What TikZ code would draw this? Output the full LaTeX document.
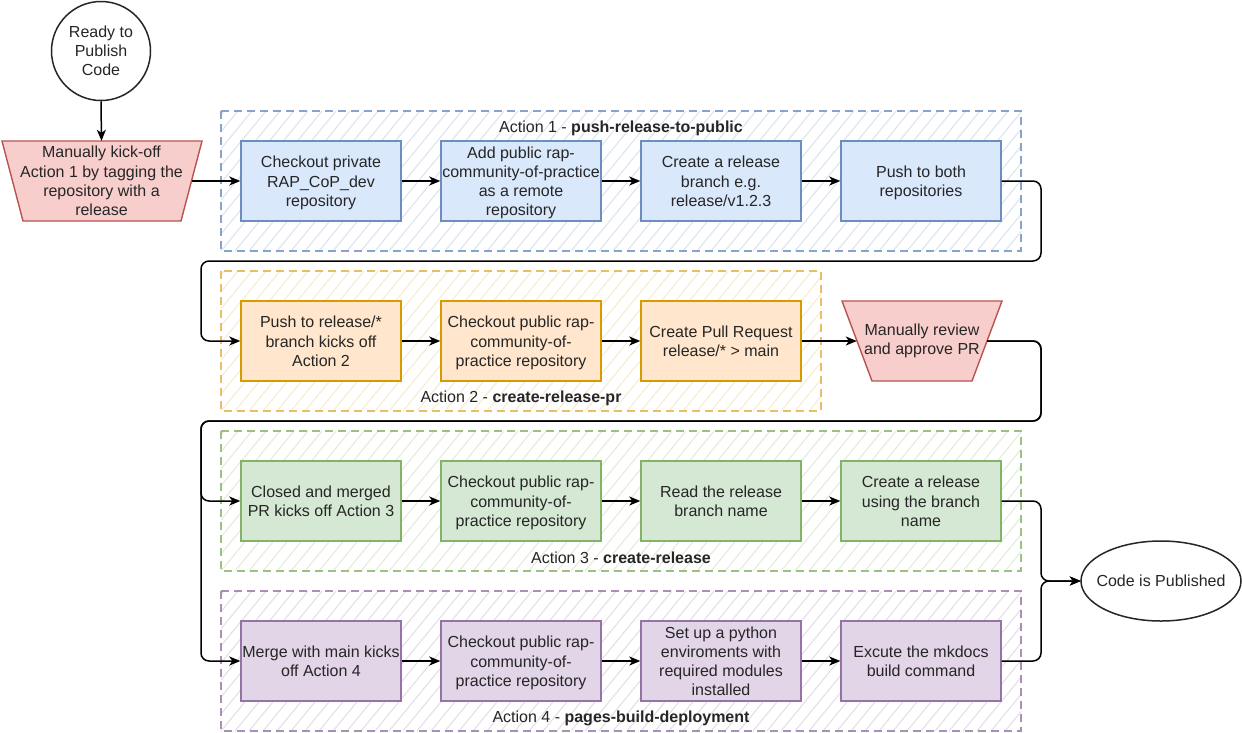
\documentclass[tikz,border=0pt]{standalone}
\usepackage{fontspec}
\setmainfont{Liberation Sans}
\usetikzlibrary{shapes.geometric,arrows.meta}
\newcommand\diagfont{\fontsize{16}{19.2}\selectfont}
\newcommand\tx[1]{\raisebox{-2.2pt}[\height][\depth]{\begin{tabular}{@{}c@{}}#1\end{tabular}}}
\definecolor{txt}{HTML}{262626}
\definecolor{bfill}{HTML}{DAE8FC}\definecolor{bstroke}{HTML}{6C8EBF}
\definecolor{ofill}{HTML}{FFE6CC}\definecolor{ostroke}{HTML}{D79B00}
\definecolor{gfill}{HTML}{D5E8D4}\definecolor{gstroke}{HTML}{82B366}
\definecolor{pfill}{HTML}{E1D5E7}\definecolor{pstroke}{HTML}{9673A6}
\definecolor{rfill}{HTML}{F8CECC}\definecolor{rstroke}{HTML}{B85450}
\definecolor{ycont}{HTML}{E0B040}
\tikzset{
  box/.style={draw, line width=1.4pt, minimum width=160pt, minimum height=80pt, align=center, inner sep=1pt, font=\diagfont, text=txt},
  bluebox/.style={box, fill=bfill, draw=bstroke},
  orangebox/.style={box, fill=ofill, draw=ostroke},
  greenbox/.style={box, fill=gfill, draw=gstroke},
  purplebox/.style={box, fill=pfill, draw=pstroke},
  manualshape/.style={draw=rstroke, fill=rfill, line width=1.4pt},
  manual/.style={minimum height=80pt, align=center, inner sep=0pt, font=\diagfont, text=txt},
  terminal/.style={draw=black!85, line width=1.5pt, align=center, font=\diagfont, text=txt, fill=white},
  terminaltext/.style={align=center, font=\diagfont, text=txt, inner sep=0pt},
  conn/.style={line width=1.5pt, draw=black, rounded corners=8pt, -{Stealth[length=11pt,width=9pt,inset=3pt]}},
  contlabel/.style={font=\diagfont, text=txt, inner sep=0pt},
  contborder/.style={line width=1.4pt, dash pattern=on 8pt off 5pt, draw opacity=0.8},
  hatch/.style={line width=1pt, draw opacity=0.25},
}
\newcommand\hatchcont[5]{%
  \begin{scope}
    \clip (#1,#2) rectangle (#3,#4);
    \foreach \k in {-10,...,75}{
      \draw[hatch,#5] ({#1+14*\k},#4) -- ++(115,{-(#4-#2)*1.0});
    }
  \end{scope}
  \draw[contborder,#5] (#1,#2) rectangle (#3,#4);
}
\begin{document}
\begin{tikzpicture}[x=1pt,y=-1pt]
  \fill[white] (0,0) rectangle (1242,732);
  \useasboundingbox (0,0) rectangle (1242,732);

  % containers
  \hatchcont{221}{111}{1021}{251}{bstroke}
  \hatchcont{221}{271}{821}{411}{ycont}
  \hatchcont{221}{431}{1021}{571}{gstroke}
  \hatchcont{221}{591}{1021}{731}{pstroke}

  \node[contlabel] (lab1) at (621,128) {Action 1 - \textbf{push-release-to-public}};
  \node[contlabel] (lab2) at (521,398) {Action 2 - \textbf{create-release-pr}};
  \node[contlabel] (lab3) at (621,558) {Action 3 - \textbf{create-release}};
  \node[contlabel] (lab4) at (621,718) {Action 4 - \textbf{pages-build-deployment}};

  % start / end
  \node[terminal, circle, minimum size=99pt, inner sep=0pt] (start) at (101,51) {Ready to\\Publish\\Code};
  \draw[terminal] (1161,581) ellipse (80 and 40);
  \node[terminaltext, minimum width=160pt, minimum height=80pt] (end) at (1161,581) {Code is Published};

  % manual steps
  \draw[manualshape] (2,141) -- (202,141) -- (181,221) -- (23,221) -- cycle;
  \node[manual, minimum width=181pt] (man1) at (101.5,181) {Manually kick-off\\Action 1 by tagging the\\repository with a\\release};
  \draw[manualshape] (842,301) -- (1002,301) -- (972,381) -- (872,381) -- cycle;
  \node[manual, minimum width=130pt] (man2) at (922,341) {Manually review\\and approve PR};

  % row 1
  \node[bluebox] (a1) at (321,181) {\tx{Checkout private\\RAP\_CoP\_dev\\repository}};
  \node[bluebox] (a2) at (521,181) {\tx{Add public rap-\\community-of-practice\\as a remote\\repository}};
  \node[bluebox] (a3) at (721,181) {\tx{Create a release\\branch e.g.\\release/v1.2.3}};
  \node[bluebox] (a4) at (921,181) {\tx{Push to both\\repositories}};

  % row 2
  \node[orangebox] (b1) at (321,341) {\tx{Push to release/*\\branch kicks off\\Action 2}};
  \node[orangebox] (b2) at (521,341) {\tx{Checkout public rap-\\community-of-\\practice repository}};
  \node[orangebox] (b3) at (721,341) {\tx{Create Pull Request\\release/* > main}};

  % row 3
  \node[greenbox] (g1) at (321,501) {\tx{Closed and merged\\PR kicks off Action 3}};
  \node[greenbox] (g2) at (521,501) {\tx{Checkout public rap-\\community-of-\\practice repository}};
  \node[greenbox] (g3) at (721,501) {\tx{Read the release\\branch name}};
  \node[greenbox] (g4) at (921,501) {\tx{Create a release\\using the branch\\name}};

  % row 4
  \node[purplebox] (p1) at (321,661) {\tx{Merge with main kicks\\off Action 4}};
  \node[purplebox] (p2) at (521,661) {\tx{Checkout public rap-\\community-of-\\practice repository}};
  \node[purplebox] (p3) at (721,661) {\tx{Set up a python\\enviroments with\\required modules\\installed}};
  \node[purplebox] (p4) at (921,661) {\tx{Excute the mkdocs\\build command}};

  % bend coordinates
  \coordinate (r1) at (1041,261);
  \coordinate (l1) at (201,261);
  \coordinate (r2) at (1041,421);
  \coordinate (l2) at (201,421);
  \coordinate (mj) at (1041,581);

  % connectors
  \draw[conn] (start.south) -- (man1.north);
  \draw[conn] (man1.east) -- (a1.west);
  \draw[conn] (a1) -- (a2);
  \draw[conn] (a2) -- (a3);
  \draw[conn] (a3) -- (a4);
  \draw[conn] (a4.east) -| (r1) -- (l1) |- (b1.west);
  \draw[conn] (b1) -- (b2);
  \draw[conn] (b2) -- (b3);
  \draw[conn] (b3.east) -- (man2.west);
  \draw[conn] (man2.east) -| (r2) -- (l2) |- (g1.west);
  \draw[conn] (man2.east) -| (r2) -- (l2) |- (p1.west);
  \draw[conn] (g1) -- (g2);
  \draw[conn] (g2) -- (g3);
  \draw[conn] (g3) -- (g4);
  \draw[conn] (p1) -- (p2);
  \draw[conn] (p2) -- (p3);
  \draw[conn] (p3) -- (p4);
  \draw[conn] (g4.east) -| (mj) -- (end.west);
  \draw[conn] (p4.east) -| (mj) -- (end.west);
\end{tikzpicture}
\end{document}
